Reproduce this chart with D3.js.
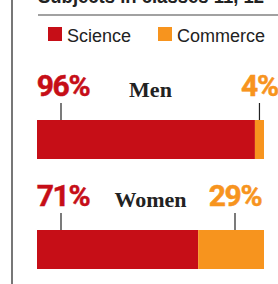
<!DOCTYPE html>
<html><head><meta charset="utf-8">
<script src="https://cdn.jsdelivr.net/npm/d3@7"></script>
<style>body{margin:0;background:#fff;overflow:hidden}svg{display:block}</style>
</head><body>
<script>
const title = "Subjects in classes 11, 12";
const seriesNames = ["Science", "Commerce"];
const colors = ["#C60E17", "#F7941E"];
const groups = ["Men", "Women"];
const science = [96, 71];
const commerce = [4, 29];

const W = 278, H = 284;
const svg = d3.select("body").append("svg").attr("width", W).attr("height", H);

// left rule
svg.append("line").attr("x1", 12).attr("x2", 12).attr("y1", 0).attr("y2", H)
  .attr("stroke", "#555").attr("stroke-width", 1.6);

// title (cut off at top, as in the reference)
svg.append("text").attr("x", 38).attr("y", 3).text(title)
  .attr("font-family", "Liberation Sans, Arial, sans-serif").attr("font-weight", 700)
  .attr("font-size", 20).attr("fill", "#222")
  .attr("textLength", 226).attr("lengthAdjust", "spacingAndGlyphs");
svg.append("line").attr("x1", 38).attr("x2", W).attr("y1", 15).attr("y2", 15)
  .attr("stroke", "#444").attr("stroke-width", 1.2);

// legend
const legX = [48, 158];
seriesNames.forEach((n, i) => {
  svg.append("rect").attr("x", legX[i]).attr("y", 27).attr("width", 14).attr("height", 14).attr("fill", colors[i]);
  svg.append("text").attr("x", legX[i] + 19).attr("y", 42).text(n)
    .attr("font-family", "Liberation Sans, Arial, sans-serif").attr("font-size", 18).attr("fill", "#222");
});

const x = d3.scaleLinear().domain([0, 100]).range([37, 264]);
const y = d3.scalePoint().domain(groups).range([120, 230]);
const barH = 39;

groups.forEach((g, i) => {
  const top = y(g);
  const s = science[i], c = commerce[i];
  svg.append("rect").attr("x", x(0)).attr("y", top).attr("width", x(s) - x(0)).attr("height", barH).attr("fill", colors[0]);
  svg.append("rect").attr("x", x(s)).attr("y", top).attr("width", x(s + c) - x(s)).attr("height", barH).attr("fill", colors[1]);

  const redTick = x(0) + 24;
  const orTick = Math.max((x(s) + x(s + c)) / 2, x(100) - 29);
  [redTick, orTick].forEach(tx => {
    svg.append("line").attr("x1", tx).attr("x2", tx).attr("y1", top - 17).attr("y2", top)
      .attr("stroke", "#222").attr("stroke-width", 1.2);
  });
  const lblY = top - 24;
  [[s, redTick + 2, colors[0]], [c, orTick, colors[1]]].forEach(([v, lx, col]) => {
    svg.append("text").attr("x", lx).attr("y", lblY).attr("text-anchor", "middle")
      .text(v + "%").attr("font-family", "Roboto, sans-serif").attr("font-weight", 700)
      .attr("font-size", 30).attr("fill", col).attr("stroke", col).attr("stroke-width", 0.5)
      .attr("letter-spacing", -1.3);
  });
  svg.append("text").attr("x", (x(0) + x(100)) / 2).attr("y", lblY + 1).attr("text-anchor", "middle")
    .text(g).attr("font-family", "Liberation Serif, serif").attr("font-weight", 700)
    .attr("font-size", 22).attr("fill", "#222");
});
</script>
</body></html>
